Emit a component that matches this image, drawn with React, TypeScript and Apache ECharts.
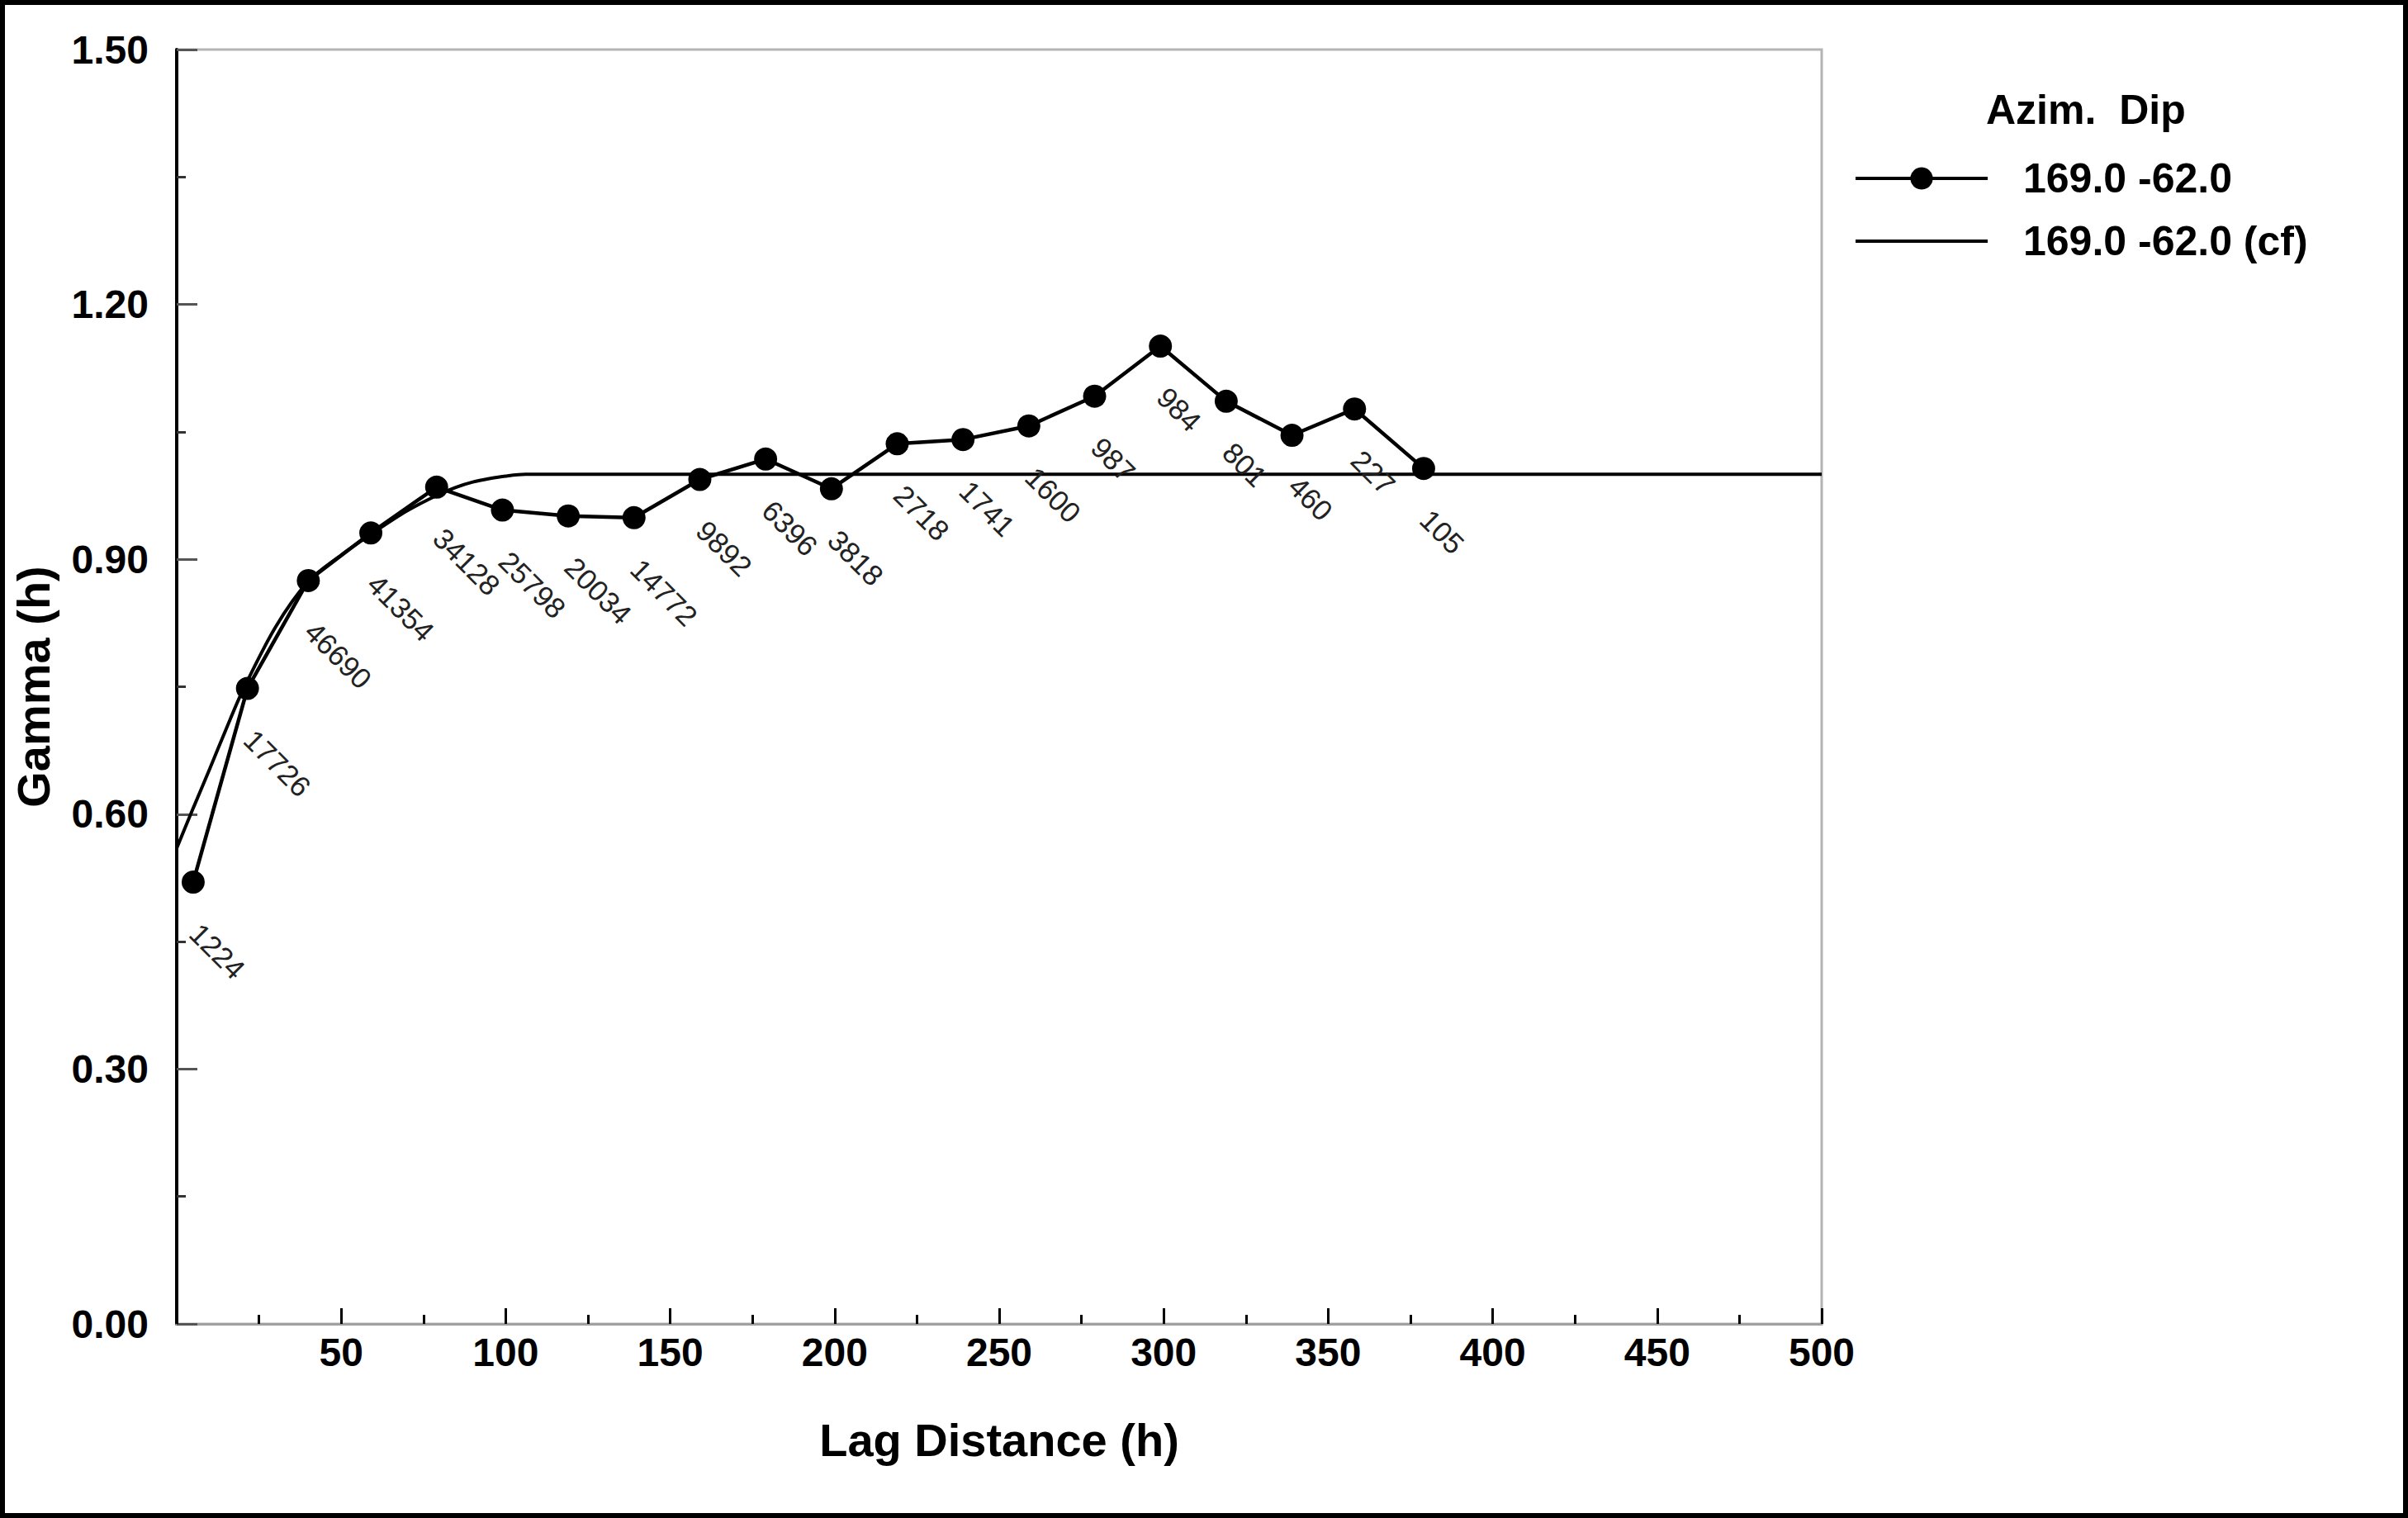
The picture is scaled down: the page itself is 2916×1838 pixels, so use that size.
import React, { useEffect, useRef } from "react";
import * as echarts from "echarts";

const lagValues = [5, 21.5, 40, 59, 79, 99, 119, 139, 159, 179, 199, 219, 239, 259, 279, 299, 319, 339, 358, 379];
const gammaValues = [0.52, 0.748, 0.875, 0.931, 0.985, 0.958, 0.951, 0.949, 0.994, 1.018, 0.983, 1.036, 1.041, 1.057, 1.092, 1.151, 1.086, 1.046, 1.077, 1.007];
const pairCounts = ["1224", "17726", "46690", "41354", "34128", "25798", "20034", "14772", "9892", "6396", "3818", "2718", "1741", "1600", "987", "984", "801", "460", "227", "105"];

const fitLag = [0, 5, 10, 15, 20, 30, 40, 50, 60, 70, 80, 85, 90, 95, 100, 106, 500];
const fitGamma = [0.56, 0.607, 0.653, 0.7, 0.745, 0.82, 0.874, 0.905, 0.932, 0.957, 0.977, 0.985, 0.991, 0.995, 0.998, 1.0, 1.0];

const yTicks = { min: 0, max: 1.5, interval: 0.3 };
const xTicks = { min: 0, max: 500, interval: 50 };

const seriesNames = ["169.0 -62.0", "169.0 -62.0 (cf)"];
const legendTitle = "Azim.  Dip";

const FONT = "'Liberation Sans', Arial, Helvetica, sans-serif";

export default function App() {
  const ref = useRef<HTMLDivElement>(null);
  useEffect(() => {
    if (!ref.current) return;
    const chart = echarts.init(ref.current, null, { renderer: "svg" });
    const dataPts = lagValues.map((x, i) => [x, gammaValues[i]]);
    const fitPts = fitLag.map((x, i) => [x, fitGamma[i]]);
    chart.setOption({
      animation: false,
      backgroundColor: "#ffffff",
      textStyle: { fontFamily: FONT },
      grid: {
        left: 214,
        right: 710,
        top: 60,
        bottom: 235,
        show: true,
        borderColor: "#b4b4b4",
        borderWidth: 3,
        backgroundColor: "transparent",
      },
      legend: {
        orient: "vertical",
        left: 2245,
        top: 191,
        itemWidth: 160,
        itemHeight: 34,
        itemGap: 26,
        padding: 0,
        selectedMode: false,
        lineStyle: { width: 4, color: "#000" },
        data: [
          { name: seriesNames[0] },
          { name: seriesNames[1], itemStyle: { opacity: 0 } },
        ],
        textStyle: {
          fontFamily: FONT,
          fontSize: 50,
          fontWeight: "bold",
          color: "#000",
          lineHeight: 50,
          padding: [0, 0, 0, 38],
        },
      },
      graphic: [
        {
          type: "text",
          left: 2405,
          top: 108,
          style: {
            text: legendTitle,
            font: `bold 50px ${FONT}`,
            fill: "#000",
          },
        },
        {
          type: "rect",
          shape: { x: 3, y: 3, width: 2910, height: 1832 },
          style: { fill: "none", stroke: "#000", lineWidth: 6 },
          silent: true,
        },
      ],
      xAxis: {
        type: "value",
        min: xTicks.min,
        max: xTicks.max,
        interval: xTicks.interval,
        name: "Lag Distance (h)",
        nameLocation: "middle",
        nameGap: 112,
        nameTextStyle: { fontFamily: FONT, fontSize: 56, fontWeight: "bold", color: "#000" },
        axisLine: { show: true, onZero: false, lineStyle: { color: "#a0a0a0", width: 3 } },
        axisTick: { show: true, inside: true, length: 19, lineStyle: { color: "#000", width: 3 } },
        minorTick: { show: true, splitNumber: 2, length: 11, lineStyle: { color: "#000", width: 3 } },
        axisLabel: {
          show: true,
          margin: 10,
          fontFamily: FONT,
          fontSize: 48,
          fontWeight: "bold",
          color: "#000",
          formatter: (v: number) => (v === 0 ? "" : String(v)),
        },
        splitLine: { show: false },
      },
      yAxis: {
        type: "value",
        min: yTicks.min,
        max: yTicks.max,
        interval: yTicks.interval,
        name: "Gamma (h)",
        nameLocation: "middle",
        nameGap: 146,
        nameTextStyle: { fontFamily: FONT, fontSize: 56, fontWeight: "bold", color: "#000" },
        axisLine: { show: true, onZero: false, lineStyle: { color: "#000", width: 4 } },
        axisTick: { show: true, inside: true, length: 25, lineStyle: { color: "#555", width: 3 } },
        minorTick: { show: true, splitNumber: 2, length: 11, lineStyle: { color: "#333", width: 3 } },
        axisLabel: {
          show: true,
          margin: 34,
          fontFamily: FONT,
          fontSize: 48,
          fontWeight: "bold",
          color: "#000",
          formatter: (v: number) => v.toFixed(2),
        },
        splitLine: { show: false },
      },
      series: [
        {
          name: seriesNames[1],
          type: "line",
          data: fitPts,
          showSymbol: false,
          symbol: "none",
          smooth: 0.3,
          lineStyle: { color: "#000", width: 4 },
          itemStyle: { color: "#000" },
          z: 2,
        },
        {
          name: seriesNames[0],
          type: "line",
          data: dataPts,
          symbol: "circle",
          symbolSize: 28,
          lineStyle: { color: "#000", width: 4.5 },
          itemStyle: { color: "#000" },
          z: 3,
          label: {
            show: true,
            formatter: (p: any) => pairCounts[p.dataIndex],
            position: [16, 70],
            align: "left",
            verticalAlign: "middle",
            rotate: -45,
            fontFamily: FONT,
            fontSize: 35,
            color: "#222",
          },
        },
      ],
    });
    return () => chart.dispose();
  }, []);
  return (
    <div
      ref={ref}
      style={{ position: "fixed", left: 0, top: 0, width: 2916, height: 1838 }}
    />
  );
}
